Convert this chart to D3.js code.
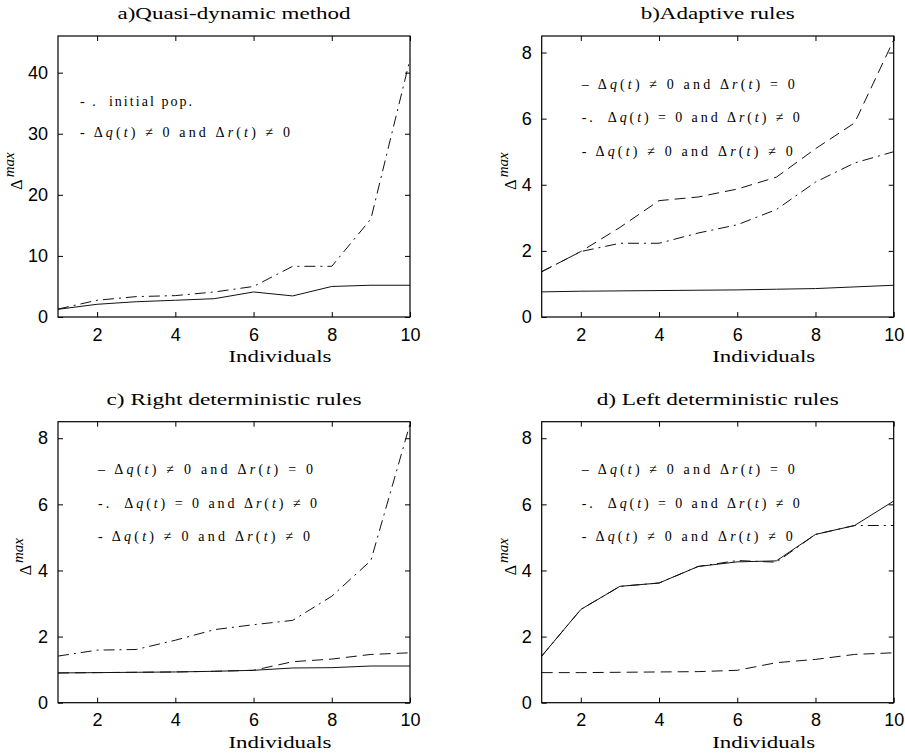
<!DOCTYPE html>
<html lang="en">
<head>
    <meta charset="utf-8">
    <script src="https://d3js.org/d3.v7.min.js"></script>
    <style>
        body { margin: 0; background: #fff; }
        .tick text { font-family: "Liberation Sans", Arial, sans-serif; font-size: 18px; fill: #000; }
        .domain { display: none; }
        .tick line { stroke: #000; }
        .serif { font-family: "Liberation Serif", "Times New Roman", serif; fill: #000; }
    </style>
</head>
<body>
    <svg></svg>
    <script>
        // x values shared by every panel
        const individuals = [1, 2, 3, 4, 5, 6, 7, 8, 9, 10]
        const xTicks = [2, 4, 6, 8, 10]
        const yTicksBig = [0, 10, 20, 30, 40]
        const yTicksSmall = [0, 2, 4, 6, 8]

        // a) quasi-dynamic
        const aInitialPop = [1.3, 2.74, 3.34, 3.5, 4.1, 5.0, 8.3, 8.3, 16.05, 42.2]
        const aBoth = [1.26, 2.08, 2.5, 2.74, 3.0, 4.1, 3.45, 5.0, 5.2, 5.2]

        // b) adaptive
        const bQOnly = [1.37, 1.98, 2.71, 3.52, 3.63, 3.87, 4.23, 5.09, 5.87, 8.38]
        const bROnly = [1.37, 1.98, 2.23, 2.23, 2.54, 2.79, 3.25, 4.08, 4.66, 5.0]
        const bBoth = [0.76, 0.78, 0.79, 0.8, 0.81, 0.82, 0.84, 0.86, 0.91, 0.96]

        // c) right deterministic
        const cQOnly = [0.9, 0.91, 0.92, 0.93, 0.95, 0.98, 1.24, 1.32, 1.46, 1.51]
        const cROnly = [1.41, 1.59, 1.61, 1.89, 2.21, 2.36, 2.49, 3.22, 4.3, 8.43]
        const cBoth = [0.9, 0.91, 0.92, 0.93, 0.95, 0.98, 1.05, 1.06, 1.11, 1.11]

        // d) left deterministic
        const dQOnly = [0.91, 0.91, 0.92, 0.93, 0.94, 0.98, 1.21, 1.31, 1.46, 1.51]
        const dROnly = [1.41, 2.82, 3.52, 3.62, 4.12, 4.3, 4.25, 5.09, 5.36, 5.36]
        const dBoth = [1.41, 2.82, 3.52, 3.62, 4.12, 4.26, 4.29, 5.09, 5.36, 6.1]

        const DASHED = '11,6'
        const DASHDOT = '11,5,2,5'

        // legend strings: [prefix, q-relation, r-relation]
        const legQOnly = ['\u2013 ', '\u2260', '=']
        const legROnly = ['-.  ', '=', '\u2260']
        const legBoth = ['- ', '\u2260', '\u2260']

        const panels = [
            { title: 'a)Quasi-dynamic method', tw: 233, left: 58, top: 36, yMax: 46, yTicks: yTicksBig,
              series: [{ v: aInitialPop, dash: DASHDOT }, { v: aBoth, dash: null }],
              legend: [{ plain: '- .  initial pop.', w: 112 }, { math: legBoth, w: 210 }],
              legX: 80, legY: [106, 137], yLabX: 22 },
            { title: 'b)Adaptive rules', tw: 154, left: 541.7, top: 36, yMax: 8.5, yTicks: yTicksSmall,
              series: [{ v: bQOnly, dash: DASHED }, { v: bROnly, dash: DASHDOT }, { v: bBoth, dash: null }],
              legend: [{ math: legQOnly, w: 213 }, { math: legROnly, w: 218 }, { math: legBoth, w: 211 }],
              legX: 581.7, legY: [89, 122, 156], yLabX: 516 },
            { title: 'c) Right deterministic rules', tw: 255, left: 58, top: 421.7, yMax: 8.5, yTicks: yTicksSmall,
              series: [{ v: cQOnly, dash: DASHED }, { v: cROnly, dash: DASHDOT }, { v: cBoth, dash: null }],
              legend: [{ math: legQOnly, w: 215 }, { math: legROnly, w: 219 }, { math: legBoth, w: 212 }],
              legX: 98, legY: [474, 508, 541], yLabX: 31 },
            { title: 'd) Left deterministic rules', tw: 242, left: 541.7, top: 421.7, yMax: 8.5, yTicks: yTicksSmall,
              series: [{ v: dQOnly, dash: DASHED }, { v: dROnly, dash: DASHDOT }, { v: dBoth, dash: null }],
              legend: [{ math: legQOnly, w: 213 }, { math: legROnly, w: 218 }, { math: legBoth, w: 211 }],
              legX: 581.7, legY: [474, 508, 541], yLabX: 516 }
        ]

        const W = 352, H = 281
        const svg = d3.select('svg').attr('width', 905).attr('height', 756)

        panels.forEach(drawPanel)

        function drawPanel(p) {
            const x = d3.scaleLinear().domain([1, 10]).range([p.left, p.left + W])
            const y = d3.scaleLinear().domain([0, p.yMax]).range([p.top + H, p.top])
            const g = svg.append('g')

            // ticks on all four sides, pointing inward
            g.append('g').attr('transform', `translate(0,${p.top + H})`)
                .call(d3.axisBottom(x).tickValues(xTicks).tickSize(-5).tickPadding(11))
            g.append('g').attr('transform', `translate(0,${p.top})`)
                .call(d3.axisTop(x).tickValues(xTicks).tickSize(-5).tickFormat(''))
            g.append('g').attr('transform', `translate(${p.left},0)`)
                .call(d3.axisLeft(y).tickValues(p.yTicks).tickSize(-5).tickPadding(10))
            g.append('g').attr('transform', `translate(${p.left + W},0)`)
                .call(d3.axisRight(y).tickValues(p.yTicks).tickSize(-5).tickFormat(''))

            const line = d3.line().x((d, i) => x(individuals[i])).y(d => y(d))
            p.series.forEach(s => {
                g.append('path')
                    .attr('d', line(s.v))
                    .attr('fill', 'none')
                    .attr('stroke', '#111')
                    .attr('stroke-width', 1)
                    .attr('stroke-dasharray', s.dash)
            })

            g.append('rect')
                .attr('x', p.left).attr('y', p.top)
                .attr('width', W).attr('height', H)
                .attr('fill', 'none').attr('stroke', '#000').attr('stroke-width', 1.2)

            // title
            g.append('text').attr('class', 'serif')
                .attr('x', p.left + W / 2).attr('y', p.top - 17)
                .attr('text-anchor', 'middle')
                .style('font-size', '16px')
                .attr('textLength', p.tw).attr('lengthAdjust', 'spacingAndGlyphs')
                .text(p.title)

            // x label
            g.append('text').attr('class', 'serif')
                .attr('x', p.left + W / 2 + 46).attr('y', p.top + H + 45)
                .attr('text-anchor', 'middle')
                .style('font-size', '17px')
                .attr('textLength', 103).attr('lengthAdjust', 'spacingAndGlyphs')
                .text('Individuals')

            // y label, rotated
            const yl = g.append('text').attr('class', 'serif')
                .attr('transform', `translate(${p.yLabX},${p.top + 135}) rotate(-90)`)
                .attr('text-anchor', 'middle')
                .style('font-size', '16px')
            yl.append('tspan').text('\u0394')
            yl.append('tspan').attr('dy', -8).style('font-style', 'italic').style('font-size', '15px')
                .attr('dx', 2).text('max')

            // legend text
            p.legend.forEach((l, i) => {
                const t = g.append('text').attr('class', 'serif')
                    .attr('x', p.legX).attr('y', p.legY[i])
                    .attr('textLength', l.w).attr('lengthAdjust', 'spacing')
                    .style('font-size', '14px')
                    .attr('xml:space', 'preserve')
                if (l.plain) {
                    t.text(l.plain)
                } else {
                    const [pre, qRel, rRel] = l.math
                    t.append('tspan').text(pre + '\u0394')
                    t.append('tspan').style('font-style', 'italic').text('q')
                    t.append('tspan').text('(')
                    t.append('tspan').style('font-style', 'italic').text('t')
                    t.append('tspan').text(`) ${qRel} 0 and \u0394`)
                    t.append('tspan').style('font-style', 'italic').text('r')
                    t.append('tspan').text('(')
                    t.append('tspan').style('font-style', 'italic').text('t')
                    t.append('tspan').text(`) ${rRel} 0`)
                }
            })
        }
    </script>
</body>
</html>
